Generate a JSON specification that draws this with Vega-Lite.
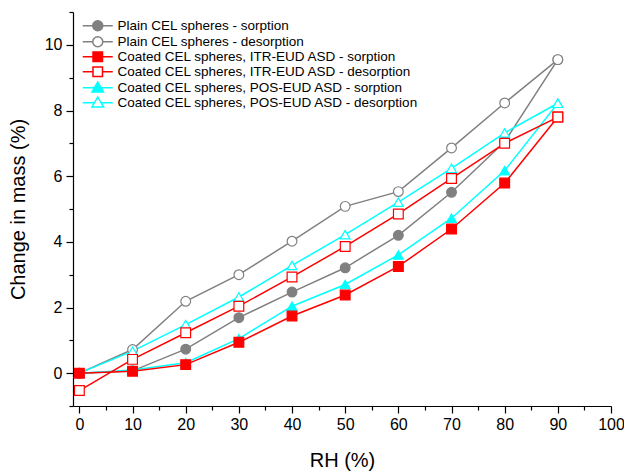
{
  "$schema": "https://vega.github.io/schema/vega-lite/v6.json",
  "width": 538,
  "height": 394,
  "autosize": "none",
  "padding": {"left": 73, "top": 12, "right": 13, "bottom": 65},
  "background": "white",
  "config": {
    "view": {"stroke": null},
    "font": "Liberation Sans",
    "axis": {
      "domainColor": "black",
      "domainWidth": 1.2,
      "tickColor": "black",
      "tickWidth": 1.2,
      "labelColor": "black",
      "labelFont": "Liberation Sans",
      "labelFontSize": 16,
      "titleFont": "Liberation Sans",
      "titleFontSize": 20,
      "titleFontWeight": "normal",
      "titleColor": "black",
      "grid": false,
      "labelOverlap": false,
      "labelFlush": false
    }
  },
  "data": {
    "values": [
      {"rh": 0, "mass": 0, "series": "Plain CEL spheres - sorption"},
      {"rh": 10, "mass": 0.07, "series": "Plain CEL spheres - sorption"},
      {"rh": 20, "mass": 0.73, "series": "Plain CEL spheres - sorption"},
      {"rh": 30, "mass": 1.69, "series": "Plain CEL spheres - sorption"},
      {"rh": 40, "mass": 2.47, "series": "Plain CEL spheres - sorption"},
      {"rh": 50, "mass": 3.21, "series": "Plain CEL spheres - sorption"},
      {"rh": 60, "mass": 4.2, "series": "Plain CEL spheres - sorption"},
      {"rh": 70, "mass": 5.51, "series": "Plain CEL spheres - sorption"},
      {"rh": 80, "mass": 7.05, "series": "Plain CEL spheres - sorption"},
      {"rh": 90, "mass": 9.55, "series": "Plain CEL spheres - sorption"},
      {"rh": 0, "mass": 0, "series": "Plain CEL spheres - desorption"},
      {"rh": 10, "mass": 0.72, "series": "Plain CEL spheres - desorption"},
      {"rh": 20, "mass": 2.19, "series": "Plain CEL spheres - desorption"},
      {"rh": 30, "mass": 3.0, "series": "Plain CEL spheres - desorption"},
      {"rh": 40, "mass": 4.02, "series": "Plain CEL spheres - desorption"},
      {"rh": 50, "mass": 5.08, "series": "Plain CEL spheres - desorption"},
      {"rh": 60, "mass": 5.53, "series": "Plain CEL spheres - desorption"},
      {"rh": 70, "mass": 6.86, "series": "Plain CEL spheres - desorption"},
      {"rh": 80, "mass": 8.23, "series": "Plain CEL spheres - desorption"},
      {"rh": 90, "mass": 9.55, "series": "Plain CEL spheres - desorption"},
      {"rh": 0, "mass": 0, "series": "Coated CEL spheres, POS-EUD ASD - sorption"},
      {"rh": 10, "mass": 0.1, "series": "Coated CEL spheres, POS-EUD ASD - sorption"},
      {"rh": 20, "mass": 0.32, "series": "Coated CEL spheres, POS-EUD ASD - sorption"},
      {"rh": 30, "mass": 1.05, "series": "Coated CEL spheres, POS-EUD ASD - sorption"},
      {"rh": 40, "mass": 2.04, "series": "Coated CEL spheres, POS-EUD ASD - sorption"},
      {"rh": 50, "mass": 2.7, "series": "Coated CEL spheres, POS-EUD ASD - sorption"},
      {"rh": 60, "mass": 3.6, "series": "Coated CEL spheres, POS-EUD ASD - sorption"},
      {"rh": 70, "mass": 4.72, "series": "Coated CEL spheres, POS-EUD ASD - sorption"},
      {"rh": 80, "mass": 6.17, "series": "Coated CEL spheres, POS-EUD ASD - sorption"},
      {"rh": 90, "mass": 8.22, "series": "Coated CEL spheres, POS-EUD ASD - sorption"},
      {"rh": 0, "mass": 0, "series": "Coated CEL spheres, POS-EUD ASD - desorption"},
      {"rh": 10, "mass": 0.67, "series": "Coated CEL spheres, POS-EUD ASD - desorption"},
      {"rh": 20, "mass": 1.48, "series": "Coated CEL spheres, POS-EUD ASD - desorption"},
      {"rh": 30, "mass": 2.32, "series": "Coated CEL spheres, POS-EUD ASD - desorption"},
      {"rh": 40, "mass": 3.28, "series": "Coated CEL spheres, POS-EUD ASD - desorption"},
      {"rh": 50, "mass": 4.22, "series": "Coated CEL spheres, POS-EUD ASD - desorption"},
      {"rh": 60, "mass": 5.21, "series": "Coated CEL spheres, POS-EUD ASD - desorption"},
      {"rh": 70, "mass": 6.24, "series": "Coated CEL spheres, POS-EUD ASD - desorption"},
      {"rh": 80, "mass": 7.32, "series": "Coated CEL spheres, POS-EUD ASD - desorption"},
      {"rh": 90, "mass": 8.22, "series": "Coated CEL spheres, POS-EUD ASD - desorption"},
      {"rh": 0, "mass": 0, "series": "Coated CEL spheres, ITR-EUD ASD - sorption"},
      {"rh": 10, "mass": 0.06, "series": "Coated CEL spheres, ITR-EUD ASD - sorption"},
      {"rh": 20, "mass": 0.26, "series": "Coated CEL spheres, ITR-EUD ASD - sorption"},
      {"rh": 30, "mass": 0.94, "series": "Coated CEL spheres, ITR-EUD ASD - sorption"},
      {"rh": 40, "mass": 1.74, "series": "Coated CEL spheres, ITR-EUD ASD - sorption"},
      {"rh": 50, "mass": 2.38, "series": "Coated CEL spheres, ITR-EUD ASD - sorption"},
      {"rh": 60, "mass": 3.25, "series": "Coated CEL spheres, ITR-EUD ASD - sorption"},
      {"rh": 70, "mass": 4.39, "series": "Coated CEL spheres, ITR-EUD ASD - sorption"},
      {"rh": 80, "mass": 5.79, "series": "Coated CEL spheres, ITR-EUD ASD - sorption"},
      {"rh": 90, "mass": 7.8, "series": "Coated CEL spheres, ITR-EUD ASD - sorption"},
      {"rh": 0, "mass": -0.53, "series": "Coated CEL spheres, ITR-EUD ASD - desorption"},
      {"rh": 10, "mass": 0.42, "series": "Coated CEL spheres, ITR-EUD ASD - desorption"},
      {"rh": 20, "mass": 1.23, "series": "Coated CEL spheres, ITR-EUD ASD - desorption"},
      {"rh": 30, "mass": 2.04, "series": "Coated CEL spheres, ITR-EUD ASD - desorption"},
      {"rh": 40, "mass": 2.93, "series": "Coated CEL spheres, ITR-EUD ASD - desorption"},
      {"rh": 50, "mass": 3.86, "series": "Coated CEL spheres, ITR-EUD ASD - desorption"},
      {"rh": 60, "mass": 4.85, "series": "Coated CEL spheres, ITR-EUD ASD - desorption"},
      {"rh": 70, "mass": 5.93, "series": "Coated CEL spheres, ITR-EUD ASD - desorption"},
      {"rh": 80, "mass": 7.0, "series": "Coated CEL spheres, ITR-EUD ASD - desorption"},
      {"rh": 90, "mass": 7.8, "series": "Coated CEL spheres, ITR-EUD ASD - desorption"}
    ]
  },
  "encoding": {
    "x": {
      "field": "rh",
      "type": "quantitative",
      "scale": {"domain": [-1.2, 100], "nice": false, "zero": false},
      "axis": {
        "title": "RH (%)",
        "values": [0, 5, 10, 15, 20, 25, 30, 35, 40, 45, 50, 55, 60, 65, 70, 75, 80, 85, 90, 95, 100],
        "labelExpr": "datum.value % 10 == 0 ? datum.label : ''",
        "tickSize": {"condition": {"test": "datum.value % 10 == 0", "value": 7}, "value": 4},
        "labelPadding": 3,
        "titlePadding": 18
      }
    },
    "y": {
      "field": "mass",
      "type": "quantitative",
      "scale": {"domain": [-1, 11], "nice": false, "zero": false},
      "axis": {
        "title": "Change in mass (%)",
        "values": [-1, 0, 1, 2, 3, 4, 5, 6, 7, 8, 9, 10, 11],
        "labelExpr": "datum.value % 2 == 0 && datum.value >= 0 && datum.value <= 10 ? datum.label : ''",
        "tickSize": {"condition": {"test": "datum.value % 2 == 0", "value": 7}, "value": 4},
        "labelPadding": 4,
        "titlePadding": 16
      }
    }
  },
  "resolve": {
    "scale": {"stroke": "independent", "fill": "independent", "shape": "independent"},
    "legend": {"stroke": "independent", "fill": "independent", "shape": "independent"}
  },
  "layer": [
    {
      "mark": {"type": "line", "strokeWidth": 1.5},
      "encoding": {
        "stroke": {
          "field": "series",
          "type": "nominal",
          "scale": {
            "domain": ["Plain CEL spheres - sorption", "Plain CEL spheres - desorption", "Coated CEL spheres, ITR-EUD ASD - sorption", "Coated CEL spheres, ITR-EUD ASD - desorption", "Coated CEL spheres, POS-EUD ASD - sorption", "Coated CEL spheres, POS-EUD ASD - desorption"],
            "range": ["#808080", "#808080", "#ff0000", "#ff0000", "#00ffff", "#00ffff"]
          },
          "legend": null
        }
      }
    },
    {
      "mark": {"type": "point", "size": 95, "strokeWidth": 1.2, "opacity": 1},
      "encoding": {
        "stroke": {
          "field": "series",
          "type": "nominal",
          "scale": {
            "domain": ["Plain CEL spheres - sorption", "Plain CEL spheres - desorption", "Coated CEL spheres, ITR-EUD ASD - sorption", "Coated CEL spheres, ITR-EUD ASD - desorption", "Coated CEL spheres, POS-EUD ASD - sorption", "Coated CEL spheres, POS-EUD ASD - desorption"],
            "range": ["#808080", "#808080", "#ff0000", "#ff0000", "#00ffff", "#00ffff"]
          },
          "legend": null
        },
        "fill": {
          "field": "series",
          "type": "nominal",
          "scale": {
            "domain": ["Plain CEL spheres - sorption", "Plain CEL spheres - desorption", "Coated CEL spheres, ITR-EUD ASD - sorption", "Coated CEL spheres, ITR-EUD ASD - desorption", "Coated CEL spheres, POS-EUD ASD - sorption", "Coated CEL spheres, POS-EUD ASD - desorption"],
            "range": ["#808080", "#ffffff", "#ff0000", "#ffffff", "#00ffff", "#ffffff"]
          },
          "legend": null
        },
        "shape": {
          "field": "series",
          "type": "nominal",
          "scale": {
            "domain": ["Plain CEL spheres - sorption", "Plain CEL spheres - desorption", "Coated CEL spheres, ITR-EUD ASD - sorption", "Coated CEL spheres, ITR-EUD ASD - desorption", "Coated CEL spheres, POS-EUD ASD - sorption", "Coated CEL spheres, POS-EUD ASD - desorption"],
            "range": ["circle", "circle", "square", "square", "triangle-up", "triangle-up"]
          },
          "legend": null
        }
      }
    },
    {
      "transform": [{"filter": "false"}],
      "mark": {"type": "point", "size": 100, "strokeWidth": 1.5, "opacity": 1},
      "encoding": {
        "stroke": {
          "field": "series",
          "type": "nominal",
          "scale": {
            "domain": ["Plain CEL spheres - sorption", "Plain CEL spheres - desorption", "Coated CEL spheres, ITR-EUD ASD - sorption", "Coated CEL spheres, ITR-EUD ASD - desorption", "Coated CEL spheres, POS-EUD ASD - sorption", "Coated CEL spheres, POS-EUD ASD - desorption"],
            "range": ["#808080", "#808080", "#ff0000", "#ff0000", "#00ffff", "#00ffff"]
          }
        },
        "fill": {
          "field": "series",
          "type": "nominal",
          "scale": {
            "domain": ["Plain CEL spheres - sorption", "Plain CEL spheres - desorption", "Coated CEL spheres, ITR-EUD ASD - sorption", "Coated CEL spheres, ITR-EUD ASD - desorption", "Coated CEL spheres, POS-EUD ASD - sorption", "Coated CEL spheres, POS-EUD ASD - desorption"],
            "range": ["#808080", "#ffffff", "#ff0000", "#ffffff", "#00ffff", "#ffffff"]
          }
        },
        "shape": {
          "field": "series",
          "type": "nominal",
          "scale": {
            "domain": ["Plain CEL spheres - sorption", "Plain CEL spheres - desorption", "Coated CEL spheres, ITR-EUD ASD - sorption", "Coated CEL spheres, ITR-EUD ASD - desorption", "Coated CEL spheres, POS-EUD ASD - sorption", "Coated CEL spheres, POS-EUD ASD - desorption"],
            "range": [
              "M-3,0H-1M1,0H3M-1,0A1,1,0,1,0,1,0A1,1,0,1,0,-1,0Z",
              "M-3,0H-1M1,0H3M-1,0A1,1,0,1,0,1,0A1,1,0,1,0,-1,0Z",
              "M-3,0H-0.95M0.95,0H3M-0.95,-0.95H0.95V0.95H-0.95Z",
              "M-3,0H-0.95M0.95,0H3M-0.95,-0.95H0.95V0.95H-0.95Z",
              "M-3,0H-0.6M0.6,0H3M0,-1.15L1.15,0.85H-1.15Z",
              "M-3,0H-0.6M0.6,0H3M0,-1.15L1.15,0.85H-1.15Z"
            ]
          },
          "legend": {
            "orient": "none",
            "legendX": 18,
            "legendY": 7,
            "title": null,
            "padding": 0,
            "labelFont": "Liberation Sans",
            "labelFontSize": 13.5,
            "labelColor": "black",
            "labelLimit": 400,
            "rowPadding": -1,
            "labelOffset": 13,
            "symbolStrokeWidth": 1.5,
            "symbolSize": 100
          }
        }
      }
    }
  ]
}
